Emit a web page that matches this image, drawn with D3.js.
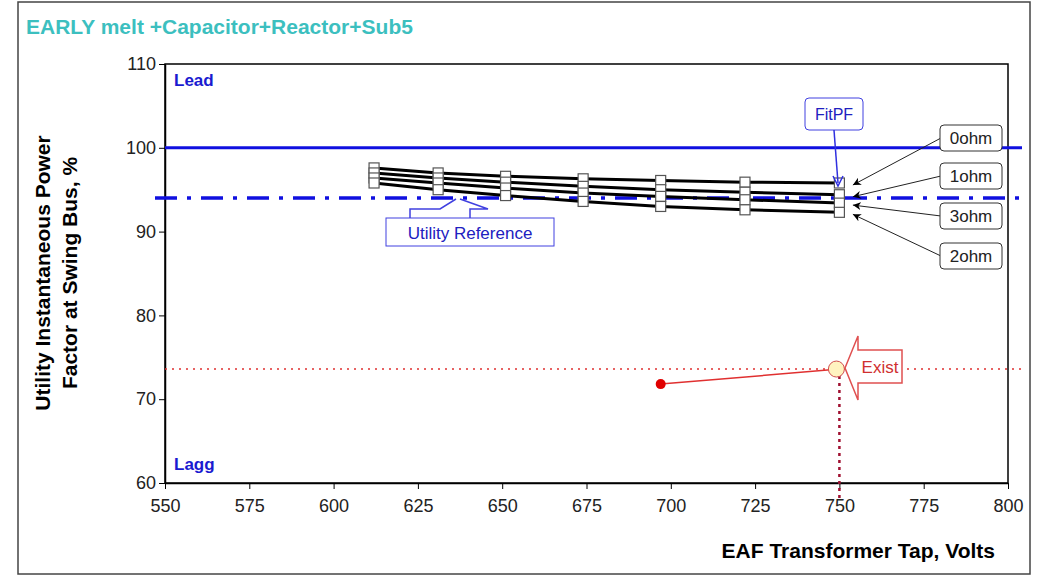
<!DOCTYPE html><html><head><meta charset="utf-8"><script src="https://cdn.jsdelivr.net/npm/d3@7"></script>
<style>body{margin:0;background:#fff}</style></head><body><svg id="c" width="1061" height="578"></svg><script>
const taps=[612,631,651,674,697,722,750];
const s0ohm=[97.6,97.0,96.6,96.3,96.1,95.9,95.8];
const s1ohm=[97.0,96.4,95.9,95.4,95.0,94.7,94.4];
const s3ohm=[96.4,95.8,95.2,94.6,94.2,93.8,93.4];
const s2ohm=[95.8,95.0,94.3,93.6,93.0,92.6,92.3];
const seriesNames=["0ohm","1ohm","3ohm","2ohm"];
const xTicks=[550,575,600,625,650,675,700,725,750,775,800];
const yTicks=[60,70,80,90,100,110];
const leadLine=100, refLine=94, existPF=73.6, existTap=750, pointTap=697, pointPF=71.8;
const svg=d3.select("#c");
const ff="Liberation Sans, Arial, sans-serif";
svg.append("rect").attr("x",18).attr("y",2).attr("width",1012).attr("height",572).attr("fill","none").attr("stroke","#444").attr("stroke-width",1.5);
svg.append("text").attr("x",26).attr("y",34).attr("fill","#3cbfbf").attr("font-family",ff).attr("font-size",21).attr("font-weight","bold").text("EARLY melt +Capacitor+Reactor+Sub5");
const x=d3.scaleLinear().domain([550,800]).range([165,1008]);
const y=d3.scaleLinear().domain([60,110]).range([483,64]);
const g=svg.append("g");
g.append("rect").attr("x",165).attr("y",64).attr("width",843).attr("height",419).attr("fill","none").attr("stroke","#000").attr("stroke-width",1.5);
const xa=g.append("g").attr("transform","translate(0,483)").call(d3.axisBottom(x).tickValues(xTicks).tickSize(6).tickSizeOuter(0));
const ya=g.append("g").attr("transform","translate(165,0)").call(d3.axisLeft(y).tickValues(yTicks).tickSize(6).tickSizeOuter(0));
[xa,ya].forEach(a=>{a.selectAll("text").attr("font-family",ff).attr("font-size",18).attr("fill","#222");a.select(".domain").attr("stroke","#000").attr("stroke-width",1.5);});
xa.selectAll("text").attr("dy","1.1em");
svg.append("text").attr("x",995).attr("y",558).attr("text-anchor","end").attr("font-family",ff).attr("font-size",21).attr("font-weight","bold").text("EAF Transformer Tap, Volts");
const yl=svg.append("text").attr("transform","translate(50,273) rotate(-90)").attr("text-anchor","middle").attr("font-family",ff).attr("font-size",21).attr("font-weight","bold");
yl.append("tspan").attr("x",0).attr("dy",0).text("Utility Instantaneous Power");
yl.append("tspan").attr("x",0).attr("dy",27).text("Factor at Swing Bus, %");
svg.append("text").attr("x",174).attr("y",86).attr("fill","#1a1ad0").attr("font-family",ff).attr("font-size",17).attr("font-weight","bold").text("Lead");
svg.append("text").attr("x",174).attr("y",470).attr("fill","#1a1ad0").attr("font-family",ff).attr("font-size",17).attr("font-weight","bold").text("Lagg");
svg.append("line").attr("x1",165).attr("x2",1022).attr("y1",y(leadLine)).attr("y2",y(leadLine)).attr("stroke","#1010e0").attr("stroke-width",3);
svg.append("line").attr("x1",155).attr("x2",1022).attr("y1",y(refLine)).attr("y2",y(refLine)).attr("stroke","#1010e0").attr("stroke-width",3.5).attr("stroke-dasharray","22,10,4,10");
svg.append("line").attr("x1",165).attr("x2",1022).attr("y1",y(existPF)).attr("y2",y(existPF)).attr("stroke","#e03030").attr("stroke-width",1.5).attr("stroke-dasharray","2,5");
svg.append("line").attr("x1",x(existTap)).attr("x2",x(existTap)).attr("y1",y(existPF)).attr("y2",500).attr("stroke","#a01030").attr("stroke-width",2.5).attr("stroke-dasharray","3,4");
const all=[s0ohm,s1ohm,s3ohm,s2ohm];
const line=d3.line().x((d,i)=>x(taps[i])).y(d=>y(d));
all.forEach(s=>svg.append("path").attr("d",line(s)).attr("fill","none").attr("stroke","#000").attr("stroke-width",3));
all.forEach(s=>svg.selectAll(null).data(s).enter().append("rect").attr("x",(d,i)=>x(taps[i])-5).attr("y",d=>y(d)-5).attr("width",10).attr("height",10).attr("fill","#fff").attr("stroke","#555").attr("stroke-width",1.2));
svg.append("defs").append("marker").attr("id","ah").attr("viewBox","0 0 10 10").attr("refX",10).attr("refY",5).attr("markerWidth",8).attr("markerHeight",8).attr("orient","auto").append("path").attr("d","M0,0L10,5L0,10L3,5Z").attr("fill","#000");
const boxes=[[125,0],[163,1],[203,2],[243,3]];
boxes.forEach(([by,k])=>{
  const s=all[k];
  svg.append("line").attr("x1",941).attr("y1",by+13).attr("x2",x(754)).attr("y2",y(s[6])+2).attr("stroke","#222").attr("stroke-width",1).attr("marker-end","url(#ah)");
  svg.append("rect").attr("x",940).attr("y",by).attr("width",62).attr("height",26).attr("rx",4).attr("fill","#fff").attr("stroke","#333");
  svg.append("text").attr("x",971).attr("y",by+19).attr("text-anchor","middle").attr("font-family",ff).attr("font-size",17).attr("fill","#222").text(seriesNames[k]);
});
svg.append("rect").attr("x",805).attr("y",98).attr("width",58).attr("height",32).attr("rx",4).attr("fill","#fff").attr("stroke","#4040e0");
svg.append("text").attr("x",834).attr("y",120).attr("text-anchor","middle").attr("font-family",ff).attr("font-size",16).attr("fill","#2020c0").text("FitPF");
svg.append("line").attr("x1",834).attr("y1",130).attr("x2",838).attr("y2",183).attr("stroke","#3030e0").attr("stroke-width",1.5);
svg.append("path").attr("d","M833,176L838,186L843,176").attr("fill","none").attr("stroke","#3030e0").attr("stroke-width",1.5);
svg.append("path").attr("d","M410,218L410,209L440,209L456,199M470,218L470,209L488,209L460,199").attr("fill","none").attr("stroke","#4040e0").attr("stroke-width",1.5);
svg.append("rect").attr("x",386).attr("y",218).attr("width",168).attr("height",28).attr("fill","#fff").attr("stroke","#4040e0");
svg.append("text").attr("x",470).attr("y",239).attr("text-anchor","middle").attr("font-family",ff).attr("font-size",17).attr("fill","#2020c0").text("Utility Reference");
svg.append("line").attr("x1",x(pointTap)).attr("y1",y(pointPF)).attr("x2",x(existTap)).attr("y2",y(existPF)).attr("stroke","#e03030").attr("stroke-width",1.5);
svg.append("circle").attr("cx",x(pointTap)).attr("cy",y(pointPF)).attr("r",5).attr("fill","#e00000");
svg.append("circle").attr("cx",x(existTap)-3).attr("cy",y(existPF)).attr("r",8).attr("fill","#fff3c0").attr("stroke","#d05050");
svg.append("path").attr("d","M845,368L858,336L858,350L902,350L902,383L858,383L858,400Z").attr("fill","#fff").attr("stroke","#e05050").attr("stroke-width",1.5);
svg.append("text").attr("x",880).attr("y",373).attr("text-anchor","middle").attr("font-family",ff).attr("font-size",17).attr("fill","#d03030").text("Exist");
</script></body></html>
